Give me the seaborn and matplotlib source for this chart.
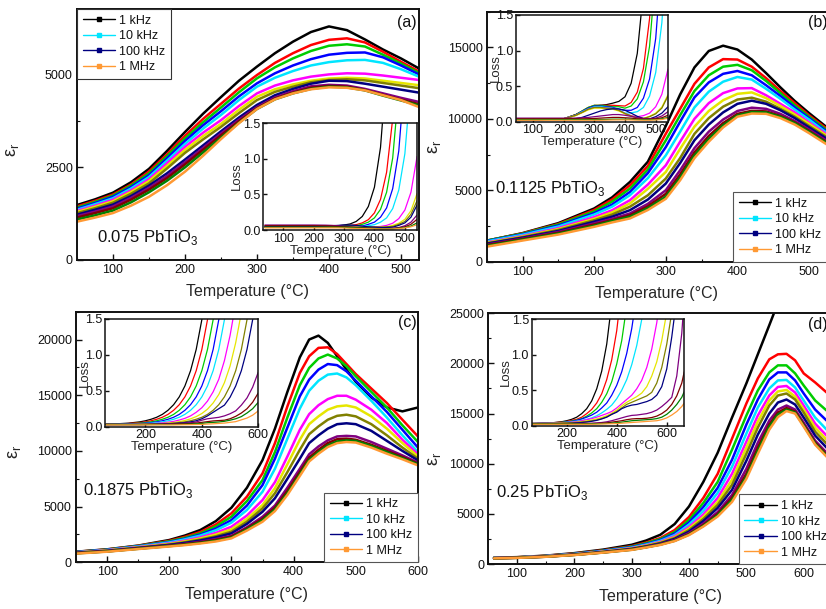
import numpy as np
import pandas as pd
import seaborn as sns
import matplotlib
matplotlib.use("Agg")
import matplotlib.pyplot as plt
from matplotlib.lines import Line2D
from matplotlib.ticker import MultipleLocator, AutoMinorLocator, FormatStrFormatter

# ---------------- data ----------------
freqs = ["1 kHz", "1.78 kHz", "3.16 kHz", "5.62 kHz", "10 kHz", "17.8 kHz", "31.6 kHz",
         "56.2 kHz", "100 kHz", "178 kHz", "316 kHz", "562 kHz", "1 MHz"]
colors = ["#000000", "#FF0000", "#00CC00", "#0000FF", "#00E5FF", "#FF00FF", "#E6E600",
          "#808000", "#000080", "#800080", "#800000", "#008000", "#FF9933"]
legend_freqs = ["1 kHz", "10 kHz", "100 kHz", "1 MHz"]
compositions = ["0.075 PbTiO", "0.1125 PbTiO", "0.1875 PbTiO", "0.25 PbTiO"]
panel_tags = ["(a)", "(b)", "(c)", "(d)"]

# panel (a) permittivity
T_a = [50, 75, 100, 125, 150, 175, 200, 225, 250, 275, 300, 325, 350, 375, 400, 425, 450, 475, 500, 525]
eps_a = [
    [1478, 1630, 1810, 2090, 2450, 2930, 3440, 3930, 4380, 4820, 5200, 5560, 5870, 6130, 6280, 6180, 5930, 5660, 5420, 5150],
    [1440, 1590, 1760, 2030, 2380, 2840, 3340, 3790, 4200, 4610, 4973, 5300, 5560, 5780, 5920, 5960, 5850, 5600, 5330, 5070],
    [1410, 1560, 1730, 2000, 2330, 2790, 3270, 3700, 4100, 4510, 4884, 5180, 5420, 5620, 5760, 5800, 5740, 5520, 5280, 5030],
    [1380, 1530, 1700, 1960, 2280, 2730, 3200, 3620, 4000, 4400, 4750, 5020, 5230, 5400, 5520, 5570, 5580, 5450, 5230, 4990],
    [1350, 1500, 1660, 1920, 2230, 2670, 3120, 3530, 3900, 4300, 4660, 4900, 5080, 5230, 5320, 5370, 5380, 5300, 5130, 4930],
    [1320, 1460, 1620, 1870, 2170, 2600, 3040, 3420, 3760, 4140, 4480, 4690, 4830, 4930, 4990, 5020, 5010, 4960, 4900, 4840],
    [1290, 1430, 1580, 1830, 2120, 2530, 2960, 3330, 3660, 4040, 4390, 4590, 4720, 4820, 4880, 4900, 4880, 4820, 4760, 4700],
    [1260, 1390, 1540, 1780, 2060, 2460, 2880, 3240, 3580, 3950, 4300, 4520, 4660, 4780, 4840, 4860, 4830, 4760, 4690, 4620],
    [1220, 1350, 1490, 1720, 2000, 2330, 2700, 3080, 3460, 3830, 4170, 4430, 4600, 4740, 4820, 4810, 4740, 4660, 4580, 4500],
    [1180, 1300, 1440, 1670, 1940, 2260, 2630, 3010, 3400, 3770, 4110, 4370, 4540, 4670, 4710, 4690, 4600, 4480, 4360, 4250],
    [1140, 1260, 1390, 1620, 1890, 2200, 2570, 2960, 3350, 3730, 4080, 4340, 4500, 4630, 4680, 4660, 4570, 4440, 4310, 4190],
    [1090, 1200, 1330, 1550, 1820, 2130, 2490, 2890, 3290, 3690, 4060, 4320, 4480, 4600, 4660, 4640, 4560, 4420, 4290, 4160],
    [1030, 1140, 1262, 1460, 1700, 2010, 2374, 2800, 3250, 3680, 4060, 4320, 4480, 4590, 4642, 4630, 4560, 4430, 4300, 4113],
]

# panel (b) permittivity
T_b = [50, 100, 150, 200, 225, 250, 275, 300, 320, 340, 360, 380, 400, 420, 440, 460, 480, 500, 525]
eps_b = [
    [1465, 2000, 2700, 3725, 4500, 5582, 7000, 9500, 11700, 13600, 14750, 15120, 14850, 14150, 13200, 12200, 11250, 10400, 9400],
    [1470, 1980, 2640, 3620, 4350, 5351, 6700, 8958, 10700, 12450, 13600, 14180, 14150, 13650, 12850, 11950, 11100, 10250, 9300],
    [1480, 1960, 2600, 3520, 4200, 5121, 6450, 8491, 10250, 11950, 13050, 13650, 13780, 13400, 12650, 11800, 10950, 10150, 9200],
    [1450, 1920, 2530, 3400, 4000, 4884, 6200, 8023, 9800, 11500, 12550, 13150, 13350, 13050, 12350, 11600, 10800, 10050, 9100],
    [1420, 1880, 2460, 3300, 3850, 4654, 5850, 7444, 9100, 10800, 11900, 12600, 12930, 12750, 12100, 11400, 10650, 9950, 9000],
    [1350, 1800, 2350, 3120, 3600, 4305, 5400, 6747, 8400, 10000, 11100, 11800, 12130, 12150, 11650, 11050, 10450, 9750, 8900],
    [1320, 1760, 2280, 3000, 3450, 4080, 5100, 6279, 7900, 9450, 10550, 11300, 11750, 11850, 11450, 10900, 10300, 9650, 8800],
    [1290, 1720, 2220, 2900, 3300, 3850, 4650, 5818, 7250, 8950, 10050, 10850, 11350, 11480, 11200, 10700, 10150, 9500, 8700],
    [1260, 1680, 2150, 2800, 3150, 3607, 4350, 5470, 6900, 8500, 9600, 10450, 11050, 11270, 11050, 10600, 10050, 9400, 8600],
    [1200, 1620, 2080, 2680, 3000, 3377, 4050, 5003, 6400, 7950, 9100, 9950, 10550, 10780, 10700, 10350, 9850, 9250, 8450],
    [1160, 1580, 2020, 2600, 2900, 3250, 3880, 4750, 6100, 7650, 8800, 9700, 10350, 10560, 10520, 10200, 9750, 9150, 8350],
    [1110, 1540, 1970, 2520, 2850, 3150, 3750, 4550, 5900, 7450, 8600, 9550, 10250, 10480, 10450, 10150, 9700, 9100, 8300],
    [1050, 1480, 1900, 2440, 2750, 3028, 3620, 4400, 5700, 7250, 8400, 9400, 10150, 10370, 10350, 10050, 9600, 9000, 8200],
]

# panel (c) permittivity
T_c = [50, 100, 150, 200, 225, 250, 275, 300, 325, 350, 370, 390, 410, 425, 440, 455, 470, 485, 500, 525, 550, 575, 600]
eps_c = [
    [950, 1166, 1500, 2000, 2400, 2900, 3700, 4900, 6700, 9175, 12000, 15300, 18400, 20000, 20350, 19700, 18500, 17300, 16200, 14800, 13900, 13550, 13900],
    [940, 1150, 1480, 1930, 2280, 2720, 3400, 4395, 5900, 7982, 10700, 14000, 17000, 18500, 19250, 19300, 18700, 17800, 16900, 15600, 14300, 12800, 11300],
    [930, 1140, 1460, 1880, 2190, 2600, 3220, 4090, 5500, 7381, 9900, 13000, 15900, 17450, 18300, 18650, 18300, 17600, 16700, 15300, 13900, 12300, 10800],
    [920, 1120, 1430, 1820, 2110, 2490, 3030, 3794, 5100, 6933, 9300, 12100, 14900, 16400, 17300, 17800, 17700, 17150, 16300, 14900, 13500, 11900, 10300],
    [900, 1100, 1410, 1780, 2060, 2400, 2880, 3560, 4700, 6336, 8400, 11100, 13800, 15400, 16300, 16850, 16950, 16600, 15900, 14500, 13000, 11400, 9900],
    [880, 1080, 1370, 1700, 1940, 2240, 2640, 3193, 4200, 5588, 7200, 9500, 11900, 13300, 14100, 14650, 14950, 14950, 14600, 13700, 12500, 11000, 9700],
    [870, 1060, 1340, 1650, 1870, 2140, 2490, 2960, 3900, 5139, 6650, 8800, 11000, 12400, 13100, 13700, 14000, 14080, 13900, 13100, 12000, 10700, 9500],
    [860, 1040, 1310, 1600, 1800, 2040, 2340, 2750, 3650, 4843, 6200, 8100, 10100, 11500, 12200, 12800, 13150, 13250, 13100, 12400, 11400, 10300, 9300],
    [840, 1020, 1290, 1560, 1740, 1960, 2240, 2600, 3450, 4538, 5750, 7500, 9300, 10700, 11400, 12000, 12400, 12480, 12400, 11800, 10900, 10000, 9150],
    [830, 1000, 1250, 1500, 1650, 1840, 2090, 2380, 3150, 4090, 5100, 6700, 8400, 9700, 10400, 10950, 11300, 11350, 11300, 10800, 10200, 9600, 8950],
    [820, 980, 1230, 1480, 1620, 1790, 2010, 2300, 3050, 3900, 4900, 6400, 8100, 9400, 10100, 10700, 11050, 11100, 11000, 10550, 10000, 9450, 8850],
    [800, 970, 1210, 1450, 1580, 1740, 1940, 2220, 2950, 3780, 4750, 6200, 7900, 9200, 9900, 10500, 10850, 10950, 10900, 10450, 9900, 9350, 8800],
    [780, 950, 1190, 1420, 1540, 1690, 1870, 2150, 2850, 3641, 4600, 6050, 7750, 9050, 9750, 10350, 10700, 10800, 10750, 10300, 9750, 9250, 8700],
]

# panel (d) permittivity
T_d = [60, 100, 150, 200, 250, 300, 325, 350, 375, 400, 425, 450, 475, 500, 520, 540, 555, 570, 585, 600, 620, 640]
eps_d = [
    [650, 700, 850, 1100, 1450, 1930, 2350, 2930, 4000, 5750, 8200, 11100, 14600, 18000, 20900, 23800, 26000],
    [640, 690, 830, 1060, 1380, 1800, 2150, 2600, 3400, 4700, 6600, 9000, 12500, 16000, 18500, 20400, 20900, 20950, 20300, 19000, 18100, 17100],
    [630, 680, 820, 1040, 1350, 1750, 2080, 2500, 3200, 4400, 6100, 8200, 11400, 14800, 17300, 19100, 19800, 19800, 19000, 17800, 16300, 15300],
    [620, 670, 810, 1020, 1320, 1700, 2000, 2400, 3050, 4150, 5700, 7600, 10400, 13900, 16400, 18400, 19100, 19100, 18300, 17000, 15400, 14300],
    [620, 665, 800, 1000, 1290, 1650, 1950, 2320, 2900, 3950, 5300, 7100, 9700, 13000, 15600, 17500, 18300, 18350, 17600, 16300, 14600, 13400],
    [610, 660, 790, 980, 1260, 1600, 1880, 2230, 2780, 3700, 4950, 6600, 9000, 12200, 14800, 16800, 17650, 17750, 17100, 15800, 14000, 12800],
    [610, 655, 780, 970, 1240, 1570, 1840, 2170, 2680, 3550, 4700, 6200, 8400, 11600, 14200, 16300, 17200, 17350, 16700, 15400, 13600, 12400],
    [600, 650, 770, 960, 1220, 1540, 1800, 2120, 2600, 3400, 4500, 5900, 7900, 11000, 13600, 15800, 16800, 17000, 16400, 15100, 13200, 12000],
    [600, 645, 760, 950, 1200, 1510, 1760, 2060, 2520, 3250, 4300, 5600, 7400, 10300, 12900, 15000, 16100, 16400, 15900, 14600, 12800, 11600],
    [590, 640, 750, 940, 1180, 1480, 1720, 2000, 2420, 3100, 4050, 5200, 6900, 9500, 12100, 14300, 15400, 15800, 15400, 14100, 12300, 11100],
    [590, 635, 745, 930, 1170, 1460, 1700, 1970, 2370, 3000, 3900, 5000, 6600, 9000, 11600, 13900, 15100, 15550, 15200, 13900, 12100, 10900],
    [580, 630, 740, 920, 1160, 1440, 1680, 1950, 2330, 2950, 3820, 4880, 6400, 8700, 11300, 13700, 14900, 15400, 15100, 13800, 12000, 10800],
    [580, 625, 735, 910, 1150, 1420, 1660, 1920, 2300, 2900, 3750, 4750, 6200, 8500, 11000, 13400, 14650, 15250, 15000, 13700, 11900, 10700],
]

# insets: dielectric loss (curves stop after leaving the 0-1.5 window)
T_la = [40, 120, 200, 240, 260, 280, 300, 320, 340, 360, 380, 400, 420, 440, 460, 480, 500, 520, 540]
loss_a = [
    [0.05, 0.05, 0.05, 0.05, 0.055, 0.06, 0.07, 0.085, 0.12, 0.19, 0.33, 0.6, 1.16, 2.26],
    [0.05, 0.05, 0.05, 0.05, 0.05, 0.055, 0.06, 0.065, 0.075, 0.1, 0.145, 0.24, 0.43, 0.81, 1.56, 3.0],
    [0.05, 0.05, 0.05, 0.05, 0.05, 0.05, 0.055, 0.06, 0.06, 0.08, 0.11, 0.17, 0.29, 0.53, 1.01, 1.97, 3.9],
    [0.045, 0.045, 0.045, 0.045, 0.045, 0.045, 0.045, 0.05, 0.05, 0.055, 0.08, 0.11, 0.18, 0.31, 0.58, 1.11, 2.18],
    [0.045, 0.045, 0.045, 0.045, 0.045, 0.045, 0.045, 0.045, 0.045, 0.05, 0.06, 0.075, 0.11, 0.17, 0.3, 0.56, 1.07, 2.1],
    [0.04, 0.04, 0.04, 0.04, 0.04, 0.04, 0.04, 0.04, 0.04, 0.04, 0.04, 0.045, 0.05, 0.065, 0.095, 0.16, 0.28, 0.53, 1.03],
    [0.04, 0.04, 0.04, 0.04, 0.04, 0.04, 0.04, 0.04, 0.04, 0.04, 0.04, 0.04, 0.04, 0.045, 0.065, 0.095, 0.15, 0.27, 0.51],
    [0.04, 0.04, 0.04, 0.04, 0.04, 0.04, 0.04, 0.04, 0.04, 0.04, 0.04, 0.04, 0.04, 0.045, 0.05, 0.08, 0.12, 0.22, 0.41],
    [0.05, 0.05, 0.05, 0.055, 0.06, 0.065, 0.07, 0.07, 0.065, 0.055, 0.045, 0.04, 0.035, 0.035, 0.04, 0.065, 0.1, 0.18, 0.35],
    [0.07, 0.07, 0.07, 0.068, 0.065, 0.06, 0.05, 0.04, 0.035, 0.03, 0.025, 0.022, 0.02, 0.02, 0.025, 0.035, 0.06, 0.11, 0.21],
    [0.06, 0.06, 0.06, 0.058, 0.055, 0.05, 0.045, 0.04, 0.035, 0.03, 0.025, 0.02, 0.018, 0.018, 0.02, 0.03, 0.045, 0.08, 0.15],
    [0.04, 0.04, 0.04, 0.04, 0.04, 0.04, 0.04, 0.035, 0.03, 0.028, 0.025, 0.022, 0.02, 0.02, 0.02, 0.025, 0.035, 0.055, 0.1],
    [0.03, 0.03, 0.03, 0.03, 0.03, 0.03, 0.028, 0.025, 0.022, 0.02, 0.018, 0.016, 0.015, 0.015, 0.015, 0.02, 0.03, 0.045, 0.075],
]

T_lb = [40, 120, 200, 240, 260, 280, 300, 320, 340, 360, 380, 400, 420, 440, 460, 480, 500, 520, 540]
loss_b = [
    [0.03, 0.03, 0.04, 0.1, 0.14, 0.19, 0.22, 0.23, 0.24, 0.26, 0.285, 0.35, 0.54, 0.96, 1.84, 3.6],
    [0.03, 0.03, 0.04, 0.1, 0.15, 0.2, 0.23, 0.23, 0.23, 0.23, 0.225, 0.22, 0.27, 0.415, 0.75, 1.45, 2.83],
    [0.03, 0.03, 0.04, 0.1, 0.15, 0.2, 0.23, 0.23, 0.22, 0.21, 0.21, 0.19, 0.22, 0.32, 0.56, 1.06, 2.1],
    [0.03, 0.03, 0.04, 0.095, 0.145, 0.19, 0.22, 0.22, 0.21, 0.2, 0.175, 0.16, 0.16, 0.2, 0.33, 0.6, 1.17, 2.3],
    [0.03, 0.03, 0.04, 0.09, 0.14, 0.18, 0.21, 0.21, 0.2, 0.19, 0.165, 0.12, 0.125, 0.14, 0.2, 0.36, 0.69, 1.39, 2.6],
    [0.03, 0.03, 0.04, 0.09, 0.13, 0.175, 0.2, 0.2, 0.19, 0.185, 0.16, 0.115, 0.085, 0.07, 0.085, 0.12, 0.21, 0.385, 0.74],
    [0.03, 0.03, 0.04, 0.085, 0.125, 0.165, 0.19, 0.19, 0.18, 0.175, 0.15, 0.11, 0.08, 0.055, 0.045, 0.075, 0.12, 0.205, 0.38],
    [0.03, 0.03, 0.04, 0.09, 0.13, 0.175, 0.2, 0.2, 0.19, 0.185, 0.16, 0.115, 0.08, 0.055, 0.045, 0.07, 0.11, 0.19, 0.36],
    [0.03, 0.03, 0.035, 0.045, 0.06, 0.09, 0.12, 0.15, 0.17, 0.18, 0.18, 0.16, 0.12, 0.075, 0.045, 0.04, 0.07, 0.12, 0.21],
    [0.05, 0.05, 0.05, 0.05, 0.055, 0.06, 0.07, 0.08, 0.09, 0.1, 0.1, 0.09, 0.075, 0.055, 0.045, 0.04, 0.05, 0.08, 0.14],
    [0.04, 0.04, 0.04, 0.04, 0.04, 0.042, 0.045, 0.05, 0.055, 0.06, 0.06, 0.055, 0.05, 0.04, 0.035, 0.035, 0.04, 0.055, 0.09],
    [0.03, 0.03, 0.03, 0.03, 0.03, 0.03, 0.03, 0.03, 0.032, 0.035, 0.035, 0.035, 0.033, 0.03, 0.028, 0.028, 0.03, 0.04, 0.06],
    [0.02, 0.02, 0.02, 0.02, 0.02, 0.02, 0.02, 0.02, 0.022, 0.024, 0.025, 0.025, 0.024, 0.022, 0.02, 0.02, 0.025, 0.03, 0.05],
]

T_lc = [60, 100, 140, 180, 200, 220, 240, 260, 280, 300, 320, 340, 360, 380, 400, 420, 440, 460,
        480, 500, 520, 540, 560, 580, 600]
loss_c = [
    [0.035, 0.04, 0.049, 0.067, 0.082, 0.103, 0.131, 0.171, 0.228, 0.306, 0.415, 0.567, 0.78, 1.076, 1.49, 2.07],
    [0.033, 0.037, 0.044, 0.057, 0.067, 0.082, 0.103, 0.131, 0.171, 0.228, 0.306, 0.415, 0.567, 0.78, 1.076, 1.49, 2.07],
    [0.032, 0.035, 0.04, 0.049, 0.057, 0.067, 0.082, 0.103, 0.131, 0.171, 0.228, 0.306, 0.415, 0.567, 0.78, 1.076, 1.49, 2.07],
    [0.03, 0.033, 0.037, 0.044, 0.049, 0.057, 0.067, 0.082, 0.103, 0.131, 0.171, 0.228, 0.306, 0.415, 0.567, 0.78, 1.076, 1.49, 2.07],
    [0.03, 0.032, 0.035, 0.04, 0.044, 0.049, 0.057, 0.067, 0.082, 0.103, 0.131, 0.171, 0.228, 0.306, 0.415, 0.567, 0.78, 1.076, 1.49, 2.07],
    [0.03, 0.03, 0.032, 0.035, 0.038, 0.042, 0.046, 0.053, 0.062, 0.074, 0.092, 0.116, 0.15, 0.2, 0.264, 0.356, 0.485, 0.66, 0.92, 1.27, 1.72],
    [0.03, 0.03, 0.03, 0.033, 0.035, 0.037, 0.04, 0.045, 0.05, 0.059, 0.07, 0.086, 0.109, 0.14, 0.183, 0.244, 0.33, 0.448, 0.613, 0.845, 1.17, 1.59],
    [0.03, 0.03, 0.03, 0.03, 0.033, 0.035, 0.037, 0.04, 0.044, 0.049, 0.057, 0.067, 0.082, 0.103, 0.131, 0.171, 0.228, 0.306, 0.415, 0.567, 0.78, 1.076, 1.49, 2.07],
    [0.03, 0.03, 0.03, 0.03, 0.03, 0.033, 0.035, 0.037, 0.04, 0.044, 0.049, 0.057, 0.067, 0.082, 0.11, 0.15, 0.2, 0.25, 0.3, 0.41, 0.567, 0.78, 1.076, 1.49, 2.07],
    [0.03, 0.03, 0.03, 0.03, 0.03, 0.032, 0.034, 0.036, 0.038, 0.04, 0.045, 0.05, 0.055, 0.065, 0.09, 0.11, 0.12, 0.13, 0.15, 0.18, 0.22, 0.3, 0.4, 0.55, 0.76],
    [0.03, 0.03, 0.03, 0.03, 0.03, 0.03, 0.031, 0.032, 0.033, 0.035, 0.037, 0.04, 0.045, 0.05, 0.06, 0.07, 0.08, 0.085, 0.09, 0.11, 0.144, 0.19, 0.25, 0.34, 0.47],
    [0.03, 0.03, 0.03, 0.03, 0.03, 0.03, 0.03, 0.03, 0.03, 0.031, 0.032, 0.034, 0.036, 0.04, 0.045, 0.055, 0.06, 0.065, 0.075, 0.09, 0.11, 0.14, 0.19, 0.25, 0.34],
    [0.025, 0.025, 0.025, 0.025, 0.025, 0.025, 0.025, 0.025, 0.025, 0.025, 0.026, 0.027, 0.028, 0.03, 0.032, 0.036, 0.04, 0.045, 0.05, 0.06, 0.07, 0.095, 0.12, 0.16, 0.22],
]

T_ld = [60, 100, 140, 180, 200, 220, 240, 260, 280, 300, 320, 340, 360, 380, 400, 420, 440, 460,
        480, 500, 520, 540, 560, 580, 600, 620, 640, 660, 670]
loss_d = [
    [0.03, 0.035, 0.04, 0.056, 0.07, 0.09, 0.12, 0.17, 0.24, 0.35, 0.52, 0.77, 1.15, 1.73, 2.6],
    [0.03, 0.033, 0.04, 0.05, 0.06, 0.075, 0.09, 0.12, 0.17, 0.23, 0.32, 0.45, 0.65, 0.93, 1.34, 1.95],
    [0.03, 0.032, 0.038, 0.047, 0.055, 0.065, 0.08, 0.1, 0.135, 0.18, 0.24, 0.33, 0.45, 0.62, 0.87, 1.2, 1.69, 2.3],
    [0.03, 0.032, 0.037, 0.045, 0.05, 0.06, 0.075, 0.095, 0.12, 0.15, 0.19, 0.25, 0.32, 0.43, 0.57, 0.76, 1.02, 1.37, 1.84],
    [0.03, 0.032, 0.036, 0.043, 0.048, 0.055, 0.065, 0.075, 0.09, 0.11, 0.14, 0.18, 0.23, 0.29, 0.38, 0.5, 0.65, 0.86, 1.13, 1.5, 2.0],
    [0.03, 0.032, 0.035, 0.04, 0.045, 0.05, 0.058, 0.07, 0.085, 0.1, 0.12, 0.145, 0.17, 0.2, 0.25, 0.31, 0.37, 0.43, 0.52, 0.64, 0.82, 1.08, 1.45, 1.95],
    [0.03, 0.03, 0.033, 0.037, 0.04, 0.045, 0.05, 0.058, 0.068, 0.08, 0.095, 0.115, 0.14, 0.175, 0.22, 0.28, 0.33, 0.37, 0.41, 0.46, 0.55, 0.7, 0.9, 1.2, 1.6],
    [0.03, 0.03, 0.032, 0.035, 0.037, 0.04, 0.045, 0.05, 0.058, 0.068, 0.08, 0.1, 0.125, 0.16, 0.2, 0.25, 0.3, 0.33, 0.36, 0.39, 0.42, 0.47, 0.6, 0.82, 1.15, 1.6],
    [0.03, 0.03, 0.03, 0.03, 0.032, 0.035, 0.04, 0.045, 0.052, 0.062, 0.075, 0.095, 0.12, 0.16, 0.19, 0.24, 0.27, 0.29, 0.3, 0.32, 0.34, 0.37, 0.43, 0.55, 0.8, 1.25, 1.8],
    [0.03, 0.03, 0.03, 0.03, 0.03, 0.03, 0.031, 0.032, 0.033, 0.035, 0.04, 0.045, 0.055, 0.07, 0.09, 0.11, 0.13, 0.145, 0.15, 0.16, 0.17, 0.19, 0.22, 0.27, 0.33, 0.4, 0.7, 1.3, 1.8],
    [0.03, 0.03, 0.03, 0.03, 0.03, 0.03, 0.03, 0.03, 0.03, 0.03, 0.032, 0.035, 0.04, 0.05, 0.06, 0.07, 0.085, 0.095, 0.1, 0.1, 0.105, 0.115, 0.135, 0.17, 0.22, 0.3, 0.42, 0.6, 0.76],
    [0.025, 0.025, 0.025, 0.025, 0.025, 0.025, 0.025, 0.025, 0.025, 0.027, 0.028, 0.03, 0.032, 0.035, 0.042, 0.05, 0.06, 0.07, 0.075, 0.08, 0.085, 0.09, 0.1, 0.12, 0.16, 0.22, 0.3, 0.4, 0.48],
    [0.02, 0.02, 0.02, 0.02, 0.02, 0.02, 0.02, 0.02, 0.02, 0.02, 0.022, 0.024, 0.026, 0.028, 0.03, 0.035, 0.04, 0.045, 0.05, 0.055, 0.06, 0.065, 0.07, 0.085, 0.11, 0.15, 0.2, 0.27, 0.32],
]

# ---------------- style ----------------
sns.set_style("ticks")
plt.rcParams.update({
    "font.family": ["Liberation Sans", "DejaVu Sans"],
    "xtick.direction": "in", "ytick.direction": "in",
    "xtick.major.size": 4, "ytick.major.size": 4,
    "xtick.minor.size": 2.5, "ytick.minor.size": 2.5,
    "xtick.major.width": 1.0, "ytick.major.width": 1.0,
    "xtick.minor.width": 0.8, "ytick.minor.width": 0.8,
    "xtick.color": "#111111", "ytick.color": "#111111",
    "axes.edgecolor": "#111111",
    "text.color": "#111111",
    "lines.solid_joinstyle": "round",
})

fig = plt.figure(figsize=(8.26, 6.09), dpi=100)


def long_frame(T, series):
    rows = []
    for f, vals in zip(freqs, series):
        for t, v in zip(T, vals):
            rows.append((f, t, v))
    return pd.DataFrame(rows, columns=["freq", "T", "v"])


def draw_curves(ax, T, series, lw):
    df = long_frame(T, series)
    sns.lineplot(data=df, x="T", y="v", hue="freq", hue_order=freqs, palette=colors,
                 estimator=None, sort=False, legend=False, linewidth=lw, ax=ax)


main_pos = [[0.0932, 0.5731, 0.4140, 0.4122],
            [0.5892, 0.5703, 0.4120, 0.4105],
            [0.0920, 0.0767, 0.4140, 0.4115],
            [0.5912, 0.0736, 0.4165, 0.4122]]
inset_pos = [[0.3188, 0.6223, 0.1861, 0.1757],
             [0.6247, 0.8002, 0.1840, 0.1752],
             [0.1275, 0.2994, 0.1852, 0.1768],
             [0.6437, 0.3010, 0.1847, 0.1747]]
main_T = [T_a, T_b, T_c, T_d]
main_eps = [eps_a, eps_b, eps_c, eps_d]
main_xlim = [(50, 525), (50, 525), (50, 600), (50, 650)]
main_ylim = [(0, 6750), (0, 17500), (0, 22500), (0, 25000)]
main_ymaj = [2500, 5000, 5000, 5000]
loss_T = [T_la, T_lb, T_lc, T_ld]
loss_v = [loss_a, loss_b, loss_c, loss_d]
inset_xlim = [(35, 540), (45, 540), (58, 600), (60, 670)]
inset_xmaj = [100, 100, 200, 200]
ylab_pos = [(-0.165, 0.44), (-0.128, 0.46), (-0.155, 0.44), (-0.132, 0.42)]
comp_pos = [(97, 237), (495, 188), (83, 490), (496, 492)]
tag_pos = [(417, 23, "right"), (808, 23, "left"), (417, 323, "right"), (808, 324, "left")]
inset_ylabelpad = [0, -4, -4, 0]

for k in range(4):
    ax = fig.add_axes(main_pos[k])
    draw_curves(ax, main_T[k], main_eps[k], 1.8)
    ax.set_xlim(*main_xlim[k])
    ax.set_ylim(*main_ylim[k])
    ax.xaxis.set_major_locator(MultipleLocator(100))
    ax.xaxis.set_minor_locator(AutoMinorLocator(2))
    ax.yaxis.set_major_locator(MultipleLocator(main_ymaj[k]))
    ax.yaxis.set_minor_locator(AutoMinorLocator(2))
    ax.tick_params(labelsize=9, pad=3)
    for s in ax.spines.values():
        s.set_linewidth(1.4)
        s.set_visible(True)
    ax.set_xlabel("Temperature (°C)", fontsize=11.5, labelpad=6)
    ax.set_ylabel("ε$_\\mathregular{r}$", fontsize=13)
    ax.yaxis.set_label_coords(*ylab_pos[k])

    handles = [Line2D([], [], color=colors[freqs.index(f)], lw=1.0, marker="s", ms=2.2)
               for f in legend_freqs]
    if k == 0:
        leg = ax.legend(handles, legend_freqs, loc="upper left", bbox_to_anchor=(0, 1),
                        borderaxespad=0, fontsize=9, handlelength=2.6, handletextpad=0.3,
                        labelspacing=0.28, borderpad=0.45, fancybox=False, framealpha=1,
                        edgecolor="#333333")
    else:
        leg = ax.legend(handles, legend_freqs, loc="lower right", bbox_to_anchor=(1, 0),
                        borderaxespad=0, fontsize=9, handlelength=2.6, handletextpad=0.3,
                        labelspacing=0.28, borderpad=0.45, fancybox=False, framealpha=1,
                        edgecolor="#555555")
    leg.get_frame().set_linewidth(0.8)

    cx, cy = comp_pos[k]
    fig.text(cx / 826, 1 - cy / 609, compositions[k] + "$_\\mathregular{3}$", fontsize=12,
             va="center", ha="left")
    tx, ty, tha = tag_pos[k]
    fig.text(tx / 826, 1 - ty / 609, panel_tags[k], fontsize=11.5, va="center", ha=tha)

    ins = fig.add_axes(inset_pos[k])
    ins.set_facecolor("white")
    draw_curves(ins, loss_T[k], loss_v[k], 0.9)
    ins.set_xlim(*inset_xlim[k])
    ins.set_ylim(0, 1.5)
    ins.xaxis.set_major_locator(MultipleLocator(inset_xmaj[k]))
    ins.yaxis.set_major_locator(MultipleLocator(0.5))
    ins.yaxis.set_major_formatter(FormatStrFormatter("%.1f"))
    ins.tick_params(labelsize=9, pad=2, length=3)
    for s in ins.spines.values():
        s.set_linewidth(1.1)
        s.set_visible(True)
    ins.set_xlabel("Temperature (°C)", fontsize=9.5, labelpad=0)
    ins.set_ylabel("Loss", fontsize=9.5, labelpad=inset_ylabelpad[k])

fig.savefig("out.png", dpi=100)
